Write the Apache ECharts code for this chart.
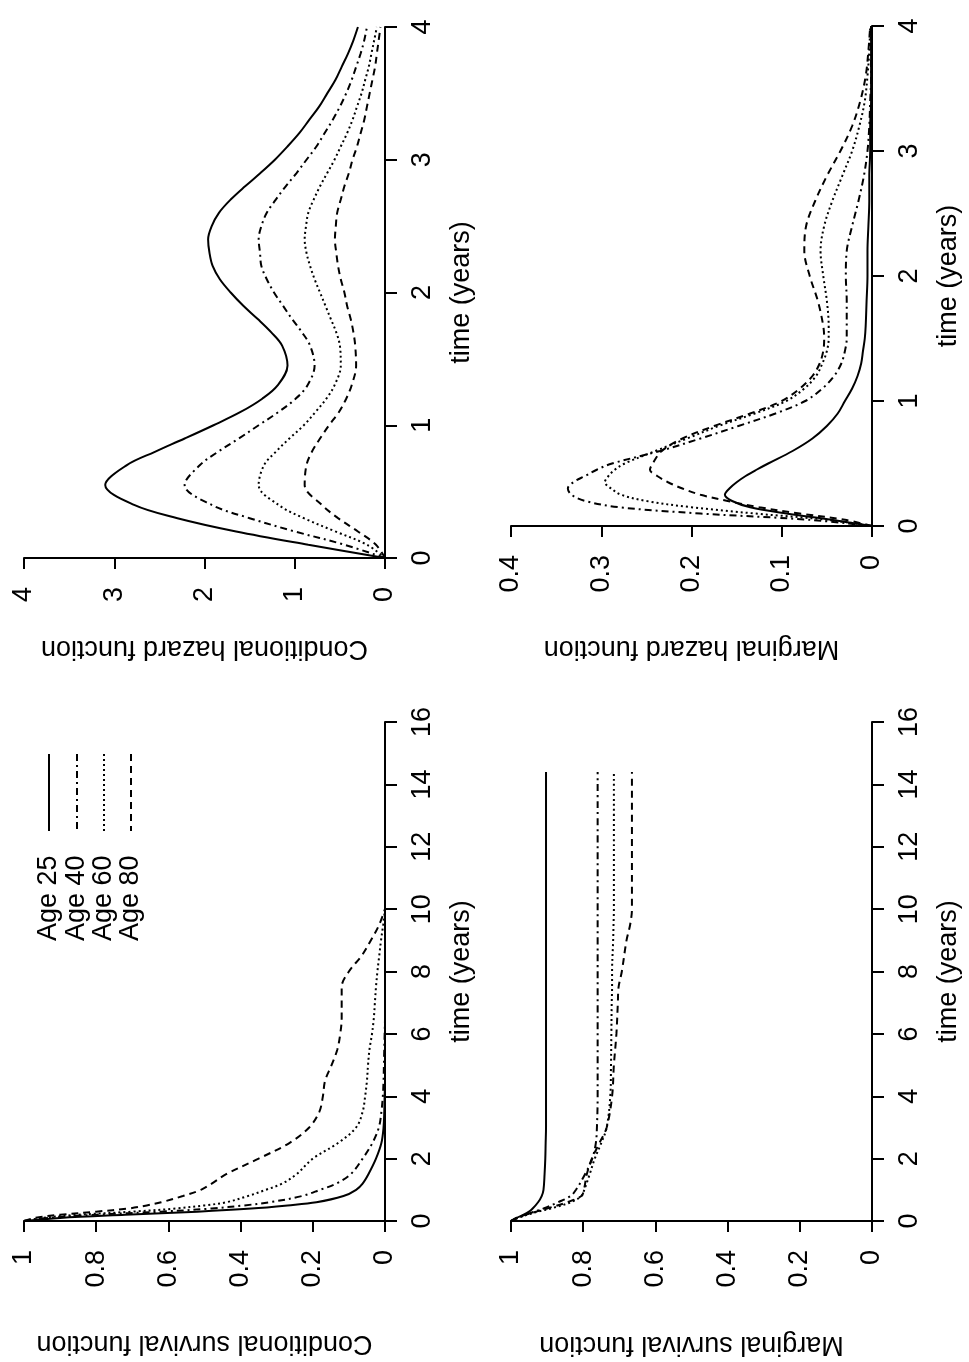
<!DOCTYPE html>
<html><head><meta charset="utf-8">
<script src="https://cdn.jsdelivr.net/npm/echarts@6/dist/echarts.min.js"></script>
<style>html,body{margin:0;padding:0;background:#fff}#c{width:969px;height:1362px}</style>
</head><body><div id="c"></div>
<script>
// ---- data ----
const ageLabels = ['Age 25', 'Age 40', 'Age 60', 'Age 80'];

// Conditional hazard (top-left)
const timeCondHaz = [0,0.1,0.2,0.3,0.4,0.55,0.7,0.8,0.9,1.0,1.1,1.2,1.3,1.45,1.6,1.7,1.8,1.9,2.0,2.1,2.2,2.3,2.4,2.5,2.6,2.7,2.8,2.9,3.0,3.1,3.2,3.3,3.4,3.5,3.6,3.7,3.8,3.9,4.0];
const condHaz25 = [0,0.85,1.65,2.3,2.78,3.10,2.86,2.55,2.22,1.9,1.6,1.36,1.19,1.08,1.14,1.26,1.41,1.57,1.71,1.83,1.91,1.945,1.96,1.92,1.84,1.71,1.55,1.38,1.22,1.08,0.95,0.84,0.73,0.64,0.55,0.48,0.41,0.35,0.30];
const condHaz40 = [0,0.45,1.0,1.5,1.92,2.22,2.05,1.85,1.62,1.4,1.18,0.99,0.86,0.78,0.83,0.92,1.03,1.13,1.23,1.31,1.37,1.385,1.40,1.37,1.31,1.21,1.1,0.98,0.87,0.76,0.67,0.58,0.5,0.43,0.37,0.32,0.27,0.23,0.2];
const condHaz60 = [0,0.2,0.55,0.9,1.18,1.40,1.34,1.21,1.06,0.9,0.77,0.65,0.56,0.49,0.5,0.54,0.6,0.66,0.72,0.78,0.83,0.87,0.89,0.875,0.85,0.79,0.72,0.64,0.56,0.49,0.42,0.36,0.31,0.26,0.22,0.18,0.15,0.12,0.09];
const condHaz80 = [0,0.1,0.3,0.52,0.7,0.89,0.87,0.81,0.72,0.62,0.51,0.43,0.37,0.32,0.33,0.35,0.38,0.42,0.45,0.49,0.52,0.54,0.555,0.545,0.53,0.49,0.45,0.4,0.36,0.31,0.27,0.23,0.2,0.17,0.14,0.11,0.09,0.07,0.05];

// Marginal hazard (top-right)
const timeMargHaz = [0,0.05,0.1,0.15,0.2,0.25,0.3,0.35,0.4,0.45,0.5,0.6,0.7,0.8,0.9,1.0,1.1,1.2,1.3,1.4,1.5,1.6,1.8,2.0,2.2,2.4,2.6,2.8,3.0,3.2,3.4,3.6,3.8,4.0];
const margHaz25 = [0,0.045,0.095,0.135,0.155,0.163,0.158,0.15,0.14,0.128,0.115,0.088,0.066,0.05,0.038,0.03,0.022,0.016,0.012,0.01,0.008,0.007,0.006,0.005,0.005,0.004,0.003,0.003,0.002,0.002,0.001,0.001,0.001,0.001];
const margHaz40 = [0,0.07,0.19,0.28,0.318,0.333,0.337,0.331,0.318,0.305,0.288,0.235,0.19,0.148,0.107,0.074,0.055,0.042,0.034,0.03,0.028,0.028,0.028,0.029,0.028,0.022,0.015,0.009,0.005,0.003,0.002,0.001,0.001,0.001];
const margHaz60 = [0,0.05,0.13,0.2,0.25,0.278,0.289,0.296,0.292,0.285,0.274,0.24,0.205,0.17,0.13,0.095,0.075,0.062,0.055,0.05,0.048,0.048,0.05,0.054,0.057,0.053,0.044,0.033,0.022,0.014,0.008,0.005,0.003,0.002];
const margHaz80 = [0,0.03,0.08,0.125,0.16,0.19,0.21,0.226,0.238,0.246,0.243,0.233,0.21,0.175,0.135,0.1,0.08,0.066,0.058,0.054,0.053,0.054,0.06,0.069,0.075,0.073,0.063,0.05,0.035,0.022,0.013,0.007,0.004,0.002];

// Conditional survival (bottom-left)
const timeCondSurv = [0,0.1,0.2,0.3,0.4,0.5,0.6,0.8,1.0,1.2,1.5,2.0,2.5,3.0,3.5,4.0,4.5,5.0,5.5,6.0,6.5,7.0,7.5,8.0,8.5,9.0,9.5,10.0];
const condSurv25 = [1,0.9,0.72,0.52,0.37,0.27,0.19,0.115,0.08,0.062,0.046,0.025,0.01,0.004,0.002,0.001,0,0,0,0,0,0,0,0,0,0,0,0];
const condSurv40 = [1,0.93,0.8,0.62,0.48,0.39,0.32,0.23,0.18,0.135,0.095,0.062,0.035,0.017,0.01,0.006,0.004,0.003,0.002,0.001,0,0,0,0,0,0,0,0];
const condSurv60 = [1,0.95,0.85,0.7,0.58,0.5,0.44,0.38,0.33,0.285,0.245,0.2,0.13,0.08,0.062,0.055,0.05,0.047,0.043,0.036,0.031,0.028,0.025,0.021,0.016,0.011,0.005,0];
const condSurv80 = [1,0.97,0.9,0.8,0.71,0.66,0.62,0.56,0.51,0.48,0.44,0.35,0.265,0.21,0.182,0.172,0.166,0.148,0.132,0.124,0.12,0.12,0.12,0.1,0.065,0.039,0.016,0];

// Marginal survival (bottom-right)
const timeMargSurv = [0,0.1,0.2,0.3,0.4,0.6,0.8,1.0,1.5,2.0,2.5,3.0,4.0,5.0,6.0,7.0,7.5,8.0,9.0,9.5,10.0,12.0,14.4];
const margSurv25 = [1,0.985,0.965,0.95,0.94,0.925,0.915,0.91,0.907,0.905,0.904,0.903,0.903,0.903,0.903,0.903,0.903,0.903,0.903,0.903,0.903,0.903,0.903];
const margSurv40 = [1,0.98,0.96,0.935,0.91,0.87,0.835,0.82,0.795,0.775,0.765,0.762,0.76,0.76,0.76,0.76,0.76,0.76,0.76,0.76,0.76,0.76,0.76];
const margSurv60 = [1,0.98,0.955,0.925,0.89,0.835,0.805,0.797,0.782,0.768,0.75,0.735,0.725,0.723,0.722,0.721,0.72,0.72,0.717,0.716,0.715,0.715,0.715];
const margSurv80 = [1,0.985,0.96,0.93,0.9,0.845,0.805,0.798,0.79,0.776,0.755,0.735,0.72,0.715,0.708,0.704,0.702,0.693,0.68,0.67,0.665,0.665,0.665];

// ---- styling ----
const FONT = '"Liberation Sans", Arial, Helvetica, sans-serif';
const FS = 27;
const dashTypes = ['solid', [7, 4, 2, 4], [2, 3], [7, 5]];

const panels = [
  { grid: { left: 24, top: 27, width: 361, height: 531 }, vmax: 4, vint: 1, tmax: 4, tint: 1,
    name: 'Conditional hazard function', gap: 77, times: timeCondHaz, series: [condHaz25, condHaz40, condHaz60, condHaz80] },
  { grid: { left: 511, top: 26, width: 361, height: 500 }, vmax: 0.4, vint: 0.1, tmax: 4, tint: 1,
    name: 'Marginal hazard function', gap: 109, times: timeMargHaz, series: [margHaz25, margHaz40, margHaz60, margHaz80] },
  { grid: { left: 24, top: 722, width: 361, height: 499 }, vmax: 1, vint: 0.2, tmax: 16, tint: 2,
    name: 'Conditional survival function', gap: 109, times: timeCondSurv, series: [condSurv25, condSurv40, condSurv60, condSurv80] },
  { grid: { left: 511, top: 722, width: 361, height: 499 }, vmax: 1, vint: 0.2, tmax: 16, tint: 2,
    name: 'Marginal survival function', gap: 110, times: timeMargSurv, series: [margSurv25, margSurv40, margSurv60, margSurv80] }
];

const txt = { fontSize: FS, color: '#000', fontFamily: FONT };
const axLine = { show: true, onZero: false, lineStyle: { color: '#000', width: 2 } };

const grids = [], xAxes = [], yAxes = [], series = [];
panels.forEach((p, gi) => {
  grids.push(Object.assign({ containLabel: false, outerBoundsMode: 'none' }, p.grid));
  xAxes.push({
    type: 'value', gridIndex: gi, min: 0, max: p.vmax, interval: p.vint, inverse: true, position: 'bottom',
    name: p.name, nameLocation: 'middle', nameGap: p.gap, nameRotate: 180, nameTextStyle: txt,
    axisLine: axLine,
    axisTick: { show: true, inside: false, length: 11, lineStyle: { color: '#000', width: 2 } },
    axisLabel: Object.assign({ rotate: 90, margin: 29, showMinLabel: true, showMaxLabel: true, hideOverlap: false }, txt),
    splitLine: { show: false }
  });
  yAxes.push({
    type: 'value', gridIndex: gi, min: 0, max: p.tmax, interval: p.tint, position: 'right',
    name: 'time (years)', nameLocation: 'middle', nameGap: 63, nameRotate: 90, nameTextStyle: txt,
    axisLine: axLine,
    axisTick: { show: true, inside: false, length: 12, lineStyle: { color: '#000', width: 2 } },
    axisLabel: Object.assign({ rotate: 90, margin: 24, showMinLabel: true, showMaxLabel: true, hideOverlap: false }, txt),
    splitLine: { show: false }
  });
  p.series.forEach((vals, si) => {
    series.push({
      type: 'line', name: ageLabels[si], xAxisIndex: gi, yAxisIndex: gi,
      data: p.times.map((t, i) => [vals[i], t]),
      showSymbol: false, smooth: 0.35, clip: false, silent: true,
      lineStyle: { color: '#000', width: 2, type: dashTypes[si], cap: 'butt' }
    });
  });
});

// legend (rotated, in bottom-left panel)
const legendX = [49, 77, 104, 131];
const legendChildren = [];
ageLabels.forEach((lab, i) => {
  legendChildren.push({
    type: 'line', shape: { x1: legendX[i], y1: 754, x2: legendX[i], y2: 831 },
    style: { stroke: '#000', lineWidth: 2, lineDash: dashTypes[i] === 'solid' ? null : dashTypes[i] }
  });
  legendChildren.push({
    type: 'text', x: legendX[i], y: 941, rotation: Math.PI / 2,
    style: { text: lab, fill: '#000', fontSize: FS, fontFamily: FONT, align: 'left', verticalAlign: 'middle' }
  });
});

const chart = echarts.init(document.getElementById('c'), null, { renderer: 'canvas' });
chart.setOption({
  animation: false,
  backgroundColor: '#fff',
  grid: grids, xAxis: xAxes, yAxis: yAxes, series: series,
  graphic: [{ type: 'group', children: legendChildren }]
});
</script>
</body></html>
